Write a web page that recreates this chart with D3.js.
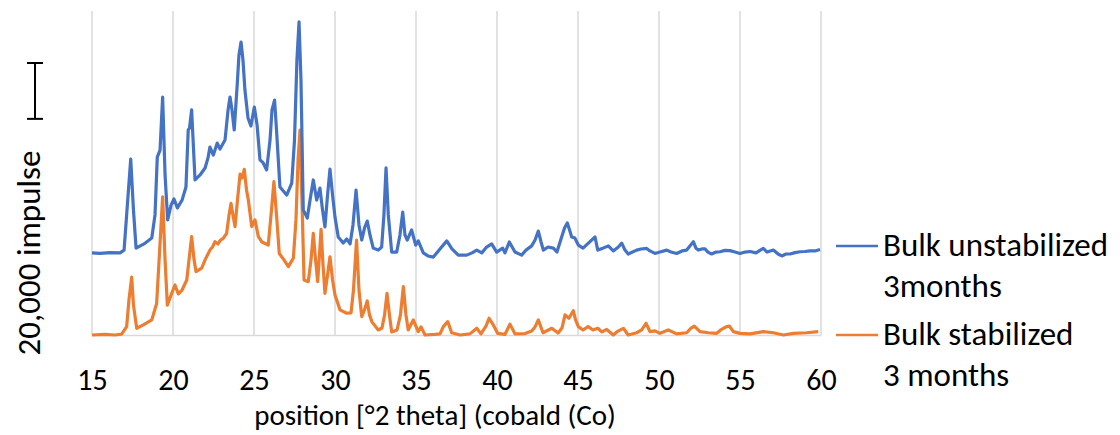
<!DOCTYPE html>
<html>
<head>
<meta charset="utf-8">
<script src="https://cdn.jsdelivr.net/npm/d3@7"></script>
<style>
  body { margin: 0; background: #fff; }
  text { font-family: Carlito, Calibri, Lato, sans-serif; fill: #000; }
</style>
</head>
<body>
<div id="chart"></div>
<script>
// tick labels on the x axis
var xTicks = [15, 20, 25, 30, 35, 40, 45, 50, 55, 60];

// Bulk unstabilized 3months  [2 theta, impulse] (shown shifted up)
var unstabilized = [
  [15.00, 29400], [15.49, 29200], [16.11, 29500], [16.73, 29400], [16.98, 30400],
  [17.16, 44700], [17.39, 63000], [17.56, 44700], [17.72, 31100], [18.21, 32600],
  [18.69, 34700], [18.89, 43000], [19.03, 63700], [19.20, 66200], [19.36, 85200],
  [19.51, 57300], [19.67, 41200], [19.88, 46500], [20.06, 48700], [20.27, 45500],
  [20.56, 48300], [20.80, 53000], [20.94, 73400], [21.02, 74100], [21.15, 80600],
  [21.27, 66200], [21.36, 55500], [21.67, 57300], [21.98, 59800], [22.16, 63400],
  [22.28, 67300], [22.49, 64400], [22.73, 68700], [22.90, 66600], [23.21, 69800],
  [23.40, 80600], [23.52, 85200], [23.64, 80600], [23.78, 73400], [23.97, 90200],
  [24.07, 100200], [24.20, 104900], [24.32, 98400], [24.44, 87700], [24.63, 77700],
  [24.81, 74800], [25.02, 81600], [25.19, 75200], [25.37, 62700], [25.57, 61600],
  [25.78, 59100], [25.99, 69800], [26.11, 80600], [26.27, 84100], [26.39, 73400],
  [26.60, 53000], [27.02, 50100], [27.33, 54400], [27.50, 69800], [27.65, 98500],
  [27.78, 112100], [27.90, 91300], [28.04, 44800], [28.29, 41900], [28.46, 48300],
  [28.66, 55500], [28.87, 48300], [29.07, 52600], [29.23, 44800], [29.38, 38700],
  [29.54, 50100], [29.69, 59400], [29.85, 50100], [30.00, 42200], [30.20, 35100],
  [30.51, 32900], [30.72, 34400], [30.93, 32600], [31.11, 39400], [31.30, 51900],
  [31.48, 39400], [31.65, 34000], [31.82, 38300], [31.99, 40800], [32.16, 35800],
  [32.36, 31100], [32.67, 30400], [32.88, 31500], [33.02, 43000], [33.15, 59800],
  [33.29, 43000], [33.50, 29700], [33.81, 29700], [34.01, 35800], [34.18, 44000],
  [34.32, 35800], [34.46, 34000], [34.73, 37600], [34.98, 32200], [35.14, 33700],
  [35.45, 29400], [35.74, 28300], [36.07, 27900], [36.48, 30800], [36.90, 33700],
  [37.22, 30800], [37.61, 28600], [38.13, 28600], [38.46, 29400], [38.75, 30400],
  [39.06, 29400], [39.36, 31500], [39.67, 32600], [39.98, 29700], [40.35, 31100],
  [40.49, 29400], [40.76, 33300], [41.11, 29700], [41.52, 28600], [41.79, 30400],
  [42.14, 31900], [42.35, 34000], [42.55, 37200], [42.72, 33300], [42.86, 30400],
  [43.15, 31500], [43.48, 31100], [43.70, 29700], [43.99, 35100], [44.17, 38300],
  [44.34, 40100], [44.48, 37600], [44.61, 35100], [44.81, 34700], [45.02, 32200],
  [45.31, 31100], [45.64, 32900], [46.05, 35100], [46.22, 30400], [46.54, 31100],
  [46.87, 31900], [47.18, 30100], [47.49, 31500], [47.70, 32900], [47.90, 30400],
  [48.10, 29000], [48.62, 30400], [48.89, 30800], [49.24, 31000], [49.44, 30100],
  [49.75, 29200], [50.06, 29700], [50.48, 30400], [50.74, 29700], [51.09, 29200],
  [51.42, 30100], [51.71, 30400], [51.91, 31900], [52.12, 33400], [52.28, 31100],
  [52.43, 30400], [52.65, 30800], [52.84, 30800], [53.02, 29700], [53.25, 29000],
  [53.52, 29700], [53.77, 29800], [54.07, 30300], [54.38, 30200], [54.69, 29700],
  [55.00, 29200], [55.31, 29700], [55.62, 29900], [55.99, 29400], [56.23, 30300],
  [56.44, 31000], [56.67, 29700], [57.06, 30400], [57.35, 29000], [57.58, 28300],
  [57.84, 29000], [58.09, 29000], [58.40, 29500], [58.70, 29800], [59.01, 29900],
  [59.32, 30100], [59.63, 30100], [59.94, 30600]
];

// Bulk stabilized 3 months  [2 theta, impulse]
var stabilized = [
  [15.00, 0], [15.80, 200], [16.42, 0], [16.83, 300], [17.14, 3000],
  [17.28, 12500], [17.45, 20700], [17.56, 10700], [17.76, 2400], [18.17, 3600],
  [18.69, 5400], [18.99, 11300], [19.20, 32800], [19.36, 49500], [19.51, 26900],
  [19.65, 10700], [19.92, 14900], [20.12, 17900], [20.33, 14700], [20.56, 16100],
  [20.85, 19700], [21.02, 28600], [21.15, 35200], [21.30, 26900], [21.42, 22700],
  [21.77, 23900], [21.98, 26900], [22.28, 30400], [22.44, 31500], [22.59, 33400],
  [22.78, 32600], [22.93, 34000], [23.10, 34600], [23.31, 36400], [23.46, 43000],
  [23.58, 47100], [23.70, 43000], [23.83, 38800], [23.98, 48300], [24.14, 57600],
  [24.26, 56200], [24.40, 59300], [24.54, 51900], [24.65, 48300], [24.86, 38800],
  [25.06, 41200], [25.27, 35200], [25.49, 33300], [25.88, 32200], [26.08, 44800],
  [26.23, 54900], [26.39, 43000], [26.56, 29200], [26.85, 26900], [27.12, 24500],
  [27.43, 27500], [27.59, 41200], [27.72, 62700], [27.84, 73400], [27.96, 48300],
  [28.09, 19700], [28.35, 19100], [28.52, 26900], [28.66, 36400], [28.80, 26900],
  [28.93, 19100], [29.04, 28600], [29.14, 37800], [29.26, 25100], [29.38, 14900],
  [29.54, 21500], [29.69, 28000], [29.85, 19700], [30.00, 14300], [30.31, 9000],
  [30.72, 7800], [30.99, 7900], [31.14, 16100], [31.33, 34000], [31.48, 16100],
  [31.65, 6600], [31.82, 9000], [31.99, 12200], [32.13, 7200], [32.28, 4700],
  [32.67, 1800], [32.90, 2500], [33.06, 7200], [33.21, 14900], [33.36, 7200],
  [33.50, 1100], [33.83, 1800], [34.04, 7200], [34.22, 17300], [34.38, 7200],
  [34.52, 1800], [34.83, 5400], [35.14, 1200], [35.31, 2900], [35.56, 0],
  [36.17, 200], [36.48, 400], [36.69, 3000], [36.96, 4800], [37.20, 800],
  [37.72, 0], [38.33, 400], [38.75, 2400], [39.01, 400], [39.32, 3200],
  [39.51, 6000], [39.77, 3600], [40.04, 600], [40.49, 200], [40.80, 3900],
  [41.11, 400], [41.73, 500], [42.14, 1400], [42.35, 2900], [42.55, 5400],
  [42.84, 800], [43.38, 2400], [43.77, 700], [44.01, 2500], [44.20, 7200],
  [44.44, 6000], [44.71, 8700], [44.85, 5400], [45.02, 3000], [45.31, 1800],
  [45.62, 3000], [45.93, 1800], [46.22, 2400], [46.48, 1100], [46.77, 2000],
  [47.18, 0], [47.47, 1400], [47.80, 2400], [48.10, 0], [48.62, 800],
  [48.93, 1800], [49.20, 4200], [49.44, 1200], [49.75, 1500], [50.06, 600],
  [50.57, 1800], [51.09, 400], [51.71, 800], [51.98, 2500], [52.18, 3200],
  [52.53, 1200], [53.04, 800], [53.56, 600], [53.81, 1800], [54.14, 2900],
  [54.34, 3200], [54.59, 1200], [55.00, 600], [55.62, 400], [56.44, 1200],
  [57.06, 800], [57.68, 0], [58.29, 600], [59.11, 800], [59.83, 1200]
];

var seriesNames = [["Bulk unstabilized", "3months"], ["Bulk stabilized", "3 months"]];
var seriesColors = ["#4472C4", "#ED7D31"];
var scaleBarValue = 20000;
var scaleBarLabel = "20,000 impulse";
var xTitle = "position [°2 theta] (cobald (Co)";

var svgWidth = 1120;
var svgHeight = 435;

var margin = { top: 11, right: 299, bottom: 100, left: 92 };
var width = svgWidth - margin.left - margin.right;
var height = svgHeight - margin.top - margin.bottom;

var svg = d3.select("#chart")
    .append("svg")
    .attr("width", svgWidth)
    .attr("height", svgHeight);

var chartGroup = svg.append("g")
    .attr("transform", `translate(${margin.left}, ${margin.top})`);

var xScale = d3.scaleLinear()
    .domain([15, 60])
    .range([0, width]);

var yScale = d3.scaleLinear()
    .domain([0, 116000])
    .range([height, 0]);

// vertical gridlines
chartGroup.selectAll(".grid")
    .data(xTicks)
    .enter()
    .append("line")
    .attr("x1", d => xScale(d))
    .attr("x2", d => xScale(d))
    .attr("y1", 0)
    .attr("y2", height)
    .attr("stroke", "#d9d9d9")
    .attr("stroke-width", 1.5);

// bottom axis
var bottomAxis = d3.axisBottom(xScale)
    .tickValues(xTicks)
    .tickSize(0);

var xAxisG = chartGroup.append("g")
    .attr("transform", `translate(0, ${height})`)
    .call(bottomAxis);
xAxisG.select(".domain").attr("stroke", "#d9d9d9").attr("stroke-width", 1.5);
xAxisG.selectAll("text")
    .attr("font-size", "30px")
    .attr("font-family", "Carlito, Calibri, Lato, sans-serif")
    .attr("fill", "#000")
    .attr("dy", null)
    .attr("y", 55);

// the two patterns
var line = d3.line()
    .x(d => xScale(d[0]))
    .y(d => yScale(d[1]));

[stabilized, unstabilized].forEach(function (data, i) {
    chartGroup.append("path")
        .datum(data)
        .attr("fill", "none")
        .attr("stroke", seriesColors[1 - i])
        .attr("stroke-width", 3.2)
        .attr("stroke-linejoin", "round")
        .attr("d", line);
});

// x axis title
svg.append("text")
    .attr("x", 435)
    .attr("y", 425)
    .attr("text-anchor", "middle")
    .attr("font-size", "29px")
    .text(xTitle);

// scale bar instead of a y axis
var barTop = 63;
var barLen = yScale(0) - yScale(scaleBarValue);
var bar = svg.append("g").attr("stroke", "#000").attr("stroke-width", 2);
bar.append("line").attr("x1", 35).attr("x2", 35).attr("y1", barTop).attr("y2", barTop + barLen);
bar.append("line").attr("x1", 27).attr("x2", 43).attr("y1", barTop).attr("y2", barTop);
bar.append("line").attr("x1", 27).attr("x2", 43).attr("y1", barTop + barLen).attr("y2", barTop + barLen);

svg.append("text")
    .attr("transform", "translate(40, 253) rotate(-90)")
    .attr("text-anchor", "middle")
    .attr("font-size", "33px")
    .text(scaleBarLabel);

// legend
var legendY = [246, 335];
seriesNames.forEach(function (names, i) {
    var g = svg.append("g");
    g.append("line")
        .attr("x1", 836).attr("x2", 878)
        .attr("y1", legendY[i]).attr("y2", legendY[i])
        .attr("stroke", seriesColors[i])
        .attr("stroke-width", 2.5);
    g.append("text")
        .attr("x", 883)
        .attr("y", legendY[i] + 10)
        .attr("font-size", "33px")
        .text(names[0]);
    g.append("text")
        .attr("x", 883)
        .attr("y", legendY[i] + 51)
        .attr("font-size", "33px")
        .text(names[1]);
});
</script>
</body>
</html>
